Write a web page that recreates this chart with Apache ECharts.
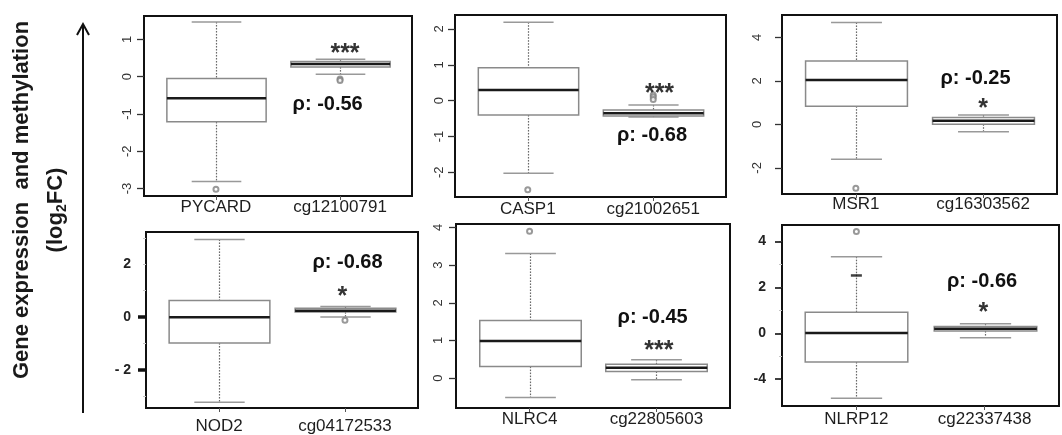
<!DOCTYPE html>
<html><head><meta charset="utf-8">
<script src="https://cdn.jsdelivr.net/npm/echarts@6/dist/echarts.min.js"></script>
<style>html,body{margin:0;padding:0;background:#fff}#c{width:1062px;height:435px}</style>
</head><body><div id="c"></div>
<script>
// ---------------- data ----------------
const geneNames = ['PYCARD','CASP1','MSR1','NOD2','NLRC4','NLRP12'];
const probeNames = ['cg12100791','cg21002651','cg16303562','cg04172533','cg22805603','cg22337438'];
// [lower whisker, Q1, median, Q3, upper whisker]
const geneStats = [
  [-2.81,-1.21,-0.58,-0.05,1.47],
  [-2.03,-0.40, 0.30, 0.92,2.19],
  [-1.60, 0.84, 2.04, 2.92,4.69],
  [-3.22,-0.98,-0.01, 0.63,2.94],
  [-0.51, 0.31, 0.99, 1.53,3.31],
  [-2.83,-1.25, 0.01, 0.92,3.34]
];
const probeStats = [
  [ 0.07, 0.26, 0.34, 0.41, 0.47],
  [-0.46,-0.43,-0.35,-0.26,-0.12],
  [-0.34, 0.01, 0.17, 0.32, 0.43],
  [ 0.00, 0.19, 0.24, 0.33, 0.40],
  [-0.04, 0.18, 0.28, 0.37, 0.49],
  [-0.20, 0.10, 0.20, 0.30, 0.42]
];
const geneOutliers = [[-3.02],[-2.49],[-2.94],[],[3.90],[4.44]];
const probeOutliers = [[-0.06,-0.10],[0.16,0.10,0.03],[],[-0.12],[],[]];
const geneDashMarks = [[],[],[],[],[],[2.52]];
const rhoValues = ['-0.56','-0.68','-0.25','-0.68','-0.45','-0.66'];
const starLabels = ['***','***','*','*','***','*'];
const yTickValues = [[-3,-2,-1,0,1],[-2,-1,0,1,2],[-2,0,2,4],[-3,-2,-1,0,1,2,3],[0,1,2,3,4],[-2,-1,0,1,2,3,4]];
const yLabelValues = [[-3,-2,-1,0,1],[-2,-1,0,1,2],[-2,0,2,4],[-2,0,2],[0,1,2,3,4],[-2,0,2,4]];
const yLabelTexts = [['-3','-2','-1','0','1'],['-2','-1','0','1','2'],['-2','0','2','4'],['- 2','0','2'],['0','1','2','3','4'],['-4','0','2','4']];
const yMajorTicks = [null,null,null,[0,-2],null,[-2,0,2,4]];

// ---------------- layout ----------------
const FONT = '"Liberation Sans", Arial, sans-serif';
const layout = [
  {left:144, top:16,  width:268, height:180, yMin:-3.20, yMax:1.63, rotated:true,  yMargin:10, xMargin:3,  rho:[1.90,-0.75], star:[2.04,0.78]},
  {left:455, top:15,  width:271, height:182, yMin:-2.69, yMax:2.39, rotated:true,  yMargin:9,  xMargin:4,  rho:[1.99,-1.00], star:[2.05,0.35]},
  {left:782, top:15,  width:275, height:179, yMin:-3.20, yMax:5.03, rotated:true,  yMargin:18, xMargin:2,  rho:[1.94,2.11],  star:[2.00,0.98]},
  {left:146, top:232, width:272, height:176, yMin:-3.44, yMax:3.22, rotated:false, yMargin:15, xMargin:10, rho:[2.02,2.03],  star:[1.98,1.00]},
  {left:456, top:224, width:274, height:184, yMin:-0.79, yMax:4.09, rotated:true,  yMargin:11, xMargin:3,  rho:[1.97,1.59],  star:[2.02,0.88]},
  {left:782, top:225, width:277, height:181, yMin:-3.17, yMax:4.72, rotated:false, yMargin:16, xMargin:5,  rho:[1.98,2.24],  star:[1.99,1.15]}
];

// dotted whisker drawn as small dots between two pixel positions
function dots(cx, yA, yB) {
  const out = [];
  const top = Math.min(yA, yB), bot = Math.max(yA, yB);
  for (let y = top; y < bot; y += 3) {
    out.push({type:'rect', z2:1, shape:{x:cx - 0.6, y:y, width:1.2, height:Math.min(1.6, bot - y)}, style:{fill:'#6a6a6a'}});
  }
  return out;
}

function renderBox(params, api) {
  const x = api.value(0);
  const lo = api.coord([x, api.value(1)]);
  const q1 = api.coord([x, api.value(2)]);
  const md = api.coord([x, api.value(3)]);
  const q3 = api.coord([x, api.value(4)]);
  const hi = api.coord([x, api.value(5)]);
  const bw = api.size([0.8, 0])[0];
  const cx = Math.round(lo[0]) + 0.5;
  const cap = bw / 4;
  return {type:'group', children: dots(cx, hi[1], q3[1]).concat(dots(cx, q1[1], lo[1])).concat([
    {type:'line', z2:2, shape:{x1:cx-cap, y1:hi[1], x2:cx+cap, y2:hi[1]}, style:{stroke:'#999', lineWidth:1.5, fill:null}},
    {type:'line', z2:2, shape:{x1:cx-cap, y1:lo[1], x2:cx+cap, y2:lo[1]}, style:{stroke:'#999', lineWidth:1.5, fill:null}},
    {type:'rect', z2:3, shape:{x:cx-bw/2, y:q3[1], width:bw, height:q1[1]-q3[1]}, style:{fill:'#fff', stroke:'#8a8a8a', lineWidth:1.5}},
    {type:'line', z2:4, shape:{x1:cx-bw/2, y1:md[1], x2:cx+bw/2, y2:md[1]}, style:{stroke:'#1a1a1a', lineWidth:2.5}}
  ])};
}

const grid = [], xAxis = [], yAxis = [], series = [];
layout.forEach((L, i) => {
  grid.push({left:L.left, top:L.top, width:L.width, height:L.height, show:true, borderColor:'#111', borderWidth:2, backgroundColor:'transparent'});
  xAxis.push({
    type:'value', gridIndex:i, min:0.42, max:2.58,
    splitLine:{show:false}, axisLine:{show:false, onZero:false},
    axisTick:{show:true, customValues:[1,2], length:4, lineStyle:{color:'#555', width:1}},
    axisLabel:{show:true, customValues:[1,2], margin:L.xMargin, fontSize:17, color:'#1e1e1e', fontFamily:FONT,
      formatter:(v) => Math.round(v) === 1 ? geneNames[i] : probeNames[i]}
  });
  const labVals = yLabelValues[i], labTxt = yLabelTexts[i];
  const minor = !!yMajorTicks[i];
  yAxis.push({
    type:'value', gridIndex:i, min:L.yMin, max:L.yMax,
    splitLine:{show:false}, axisLine:{show:false, onZero:false},
    axisTick:{show:true, customValues:yTickValues[i], length: minor ? 3 : 7, lineStyle:{color: minor ? '#c4c4c4' : '#333', width: minor ? 1 : 1.3}},
    axisLabel:{show:true, customValues:labVals, margin:L.yMargin, rotate: L.rotated ? 90 : 0,
      fontSize: L.rotated ? 13 : 14, fontWeight: L.rotated ? 'normal' : 'bold', color: L.rotated ? '#333' : '#222', fontFamily:FONT,
      formatter:(v) => { const k = labVals.findIndex(t => Math.abs(t - v) < 1e-6); return k >= 0 ? labTxt[k] : ''; }}
  });
  series.push({
    type:'custom', xAxisIndex:i, yAxisIndex:i, clip:false, silent:true,
    encode:{x:0, y:[1,2,3,4,5]},
    data:[[1].concat(geneStats[i]), [2].concat(probeStats[i])],
    renderItem:renderBox, z:2
  });
  series.push({
    type:'scatter', xAxisIndex:i, yAxisIndex:i, silent:true, symbol:'emptyCircle', symbolSize:5,
    itemStyle:{color:'#808080', borderWidth:1}, z:3,
    data: geneOutliers[i].map(v => [1, v]).concat(probeOutliers[i].map(v => [2, v]))
  });
  if (geneDashMarks[i].length) {
    series.push({
      type:'scatter', xAxisIndex:i, yAxisIndex:i, silent:true, symbol:'rect', symbolSize:[11,2.5],
      itemStyle:{color:'#111'}, z:3, data: geneDashMarks[i].map(v => [1, v])
    });
  }
  series.push({
    type:'scatter', xAxisIndex:i, yAxisIndex:i, silent:true, symbolSize:1, itemStyle:{color:'#fff', opacity:0}, z:4,
    data:[
      {value:L.rho, label:{formatter:'ρ: ' + rhoValues[i], fontSize:20, fontWeight:'bold', color:'#111', offset:[0,10]}},
      {value:L.star, label:{formatter:starLabels[i], fontSize:25, fontWeight:'bold', color:'#333', offset:[0,19]}}
    ],
    label:{show:true, position:'top', distance:0, fontFamily:FONT, opacity:1}
  });
});
// major tick overlays for the horizontally-labelled panels
layout.forEach((L, i) => {
  if (!yMajorTicks[i]) return;
  yAxis.push({
    type:'value', gridIndex:i, min:L.yMin, max:L.yMax, position:'left',
    splitLine:{show:false}, axisLine:{show:false, onZero:false}, axisLabel:{show:false},
    axisTick:{show:true, customValues:yMajorTicks[i], length: i === 3 ? 8 : 7, lineStyle:{color:'#111', width: i === 3 ? 3.5 : 1.6}}
  });
});

const chart = echarts.init(document.getElementById('c'), null, {renderer:'canvas'});
chart.setOption({
  animation:false,
  backgroundColor:'#fff',
  grid, xAxis, yAxis, series,
  graphic:[
    {type:'text', x:22, y:200, rotation:Math.PI/2, silent:true,
      style:{text:'Gene expression  and methylation', font:'bold 22px ' + FONT, fill:'#1a1a1a', align:'center', verticalAlign:'middle'}},
    {type:'text', x:56, y:210, rotation:Math.PI/2, silent:true,
      style:{text:'{b|(log}{s|2}{b|FC)}', align:'center', verticalAlign:'middle', fill:'#1a1a1a',
        rich:{b:{fontSize:22, fontWeight:'bold', fontFamily:FONT, fill:'#1a1a1a', lineHeight:26},
              s:{fontSize:14, fontWeight:'bold', fontFamily:FONT, fill:'#1a1a1a', lineHeight:15, verticalAlign:'bottom'}}}},
    {type:'line', silent:true, shape:{x1:83, y1:413, x2:83, y2:25}, style:{stroke:'#111', lineWidth:2}},
    {type:'polyline', silent:true, shape:{points:[[77,35],[83,24],[89,35]]}, style:{stroke:'#111', lineWidth:2, fill:null}}
  ]
});
</script></body></html>
